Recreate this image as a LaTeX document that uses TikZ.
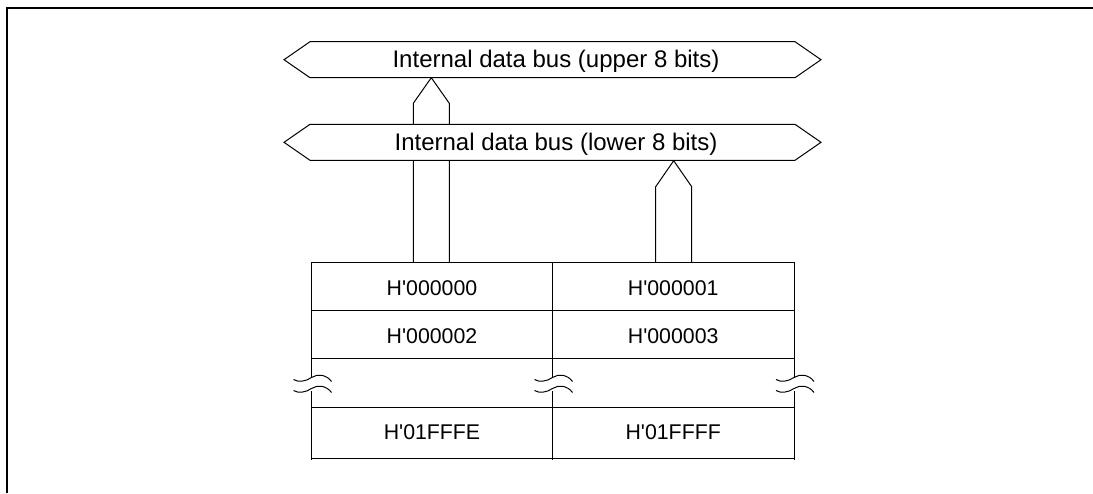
\documentclass[tikz,border=0pt]{standalone}
\usepackage{fontspec}
\setmainfont{Liberation Sans}
\begin{document}
\begin{tikzpicture}[x=1pt,y=-1pt, line width=1pt, line join=miter,
  bus/.style={draw, fill=white},
  buslabel/.style={inner sep=0pt, anchor=base, font=\fontsize{24}{28}\selectfont},
  cell/.style={inner sep=0pt, anchor=base, font=\fontsize{21.3}{25}\selectfont},
  frameline/.style={line width=2pt},
  gridline/.style={line width=1pt}]
\useasboundingbox (0,0) rectangle (1093,493);
% frame
\draw[frameline] (7.3,493) -- (7.3,8.3) -- (1093,8.3);

% named points
\coordinate (upTip) at (431.3,77.7);
\coordinate (loTip) at (673.7,160.7);

% connectors (bus arrows)
\draw (413.3,262) -- (413.3,103.3) -- (upTip) -- (449.3,103.3) -- (449.3,262);
\draw (655.7,262) -- (655.7,186.7) -- (loTip) -- (691.7,186.7) -- (691.7,262);

% buses
\draw[bus] (284,59.7) -- (310,41.7) -- (795,41.7) -- (821,59.7) -- (795,77.7) -- (310,77.7) -- cycle;
\node[buslabel] (upper) at (556,67.6) {Internal data bus (upper 8 bits)};
\draw[bus] (284,142.3) -- (310,124.3) -- (795,124.3) -- (821,142.3) -- (795,160.3) -- (310,160.3) -- cycle;
\node[buslabel] (lower) at (556,150.2) {Internal data bus (lower 8 bits)};

% table horizontal lines
\foreach \yy in {262,310,358,407,458}
  \draw[gridline] (311.5,\yy) -- (794,\yy);
% table vertical lines with break
\foreach \xx in {311.5,552.5,794}{
  \draw[gridline] (\xx,262) -- (\xx,378);
  \draw[gridline] (\xx,391) -- (\xx,459.5);
  \draw[gridline] (\xx-18,379.5) .. controls (\xx-13,382.5) and (\xx-6,381.5) .. (\xx,377.5)
        .. controls (\xx+6,373.5) and (\xx+15,374.5) .. (\xx+20,381.5);
  \draw[gridline] (\xx-18,390.5) .. controls (\xx-13,393.5) and (\xx-6,392.5) .. (\xx,388.5)
        .. controls (\xx+6,384.5) and (\xx+15,385.5) .. (\xx+20,392.5);
}

% cells
\node[cell] (c0) at (432,295.7) {H\textquotesingle 000000};
\node[cell] (c1) at (673.2,295.7) {H\textquotesingle 000001};
\node[cell] (c2) at (432,343.3) {H\textquotesingle 000002};
\node[cell] (c3) at (673.2,343.3) {H\textquotesingle 000003};
\node[cell] (c4) at (432,439.3) {H\textquotesingle 01FFFE};
\node[cell] (c5) at (673.2,439.3) {H\textquotesingle 01FFFF};
\end{tikzpicture}
\end{document}
